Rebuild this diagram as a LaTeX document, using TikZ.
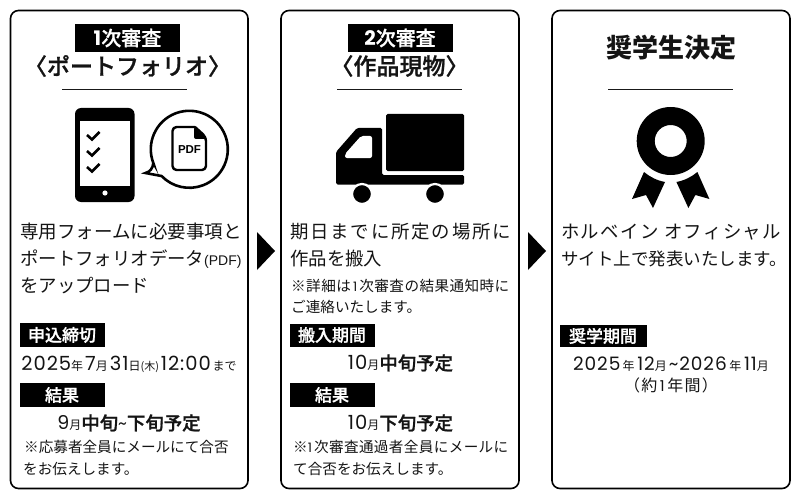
\documentclass[tikz,border=0pt]{standalone}
\usepackage{fontspec}
\setmainfont{Noto Sans CJK JP}
\newfontfamily\jpmed[FakeBold=1]{Noto Sans CJK JP Medium}
\newfontfamily\latinf{Liberation Sans}
\newfontfamily\dg{Poppins}
\newcommand{\fsz}[1]{\fontsize{#1}{#1}\selectfont}
\newcommand{\ls}[1]{\addfontfeature{LetterSpace=#1}}
\newcommand{\dgt}[2]{{\dg\fsz{#1}#2}}
\newcommand{\dgs}[2]{{\dg\fsz{#1}\ls{5}#2}}
\newcommand{\dgb}[2]{{\dg\bfseries\fsz{#1}#2}}
\tikzset{
 card/.style={draw=black,line width=1.6pt,rounded corners=8pt,fill=white},
 bar/.style={fill=black,draw=none},
 rulel/.style={line width=1.8pt,draw=black!90},
 txt/.style={inner sep=0pt,anchor=west,text=black!92},
 ctr/.style={inner sep=0pt,anchor=center,text=black!92},
 wht/.style={inner sep=0pt,anchor=center,text=white},
}
\begin{document}
\begin{tikzpicture}[x=1pt,y=-1pt]
\useasboundingbox (0,0) rectangle (800,500);
\fill[white] (0,0) rectangle (800,500);
% cards
\draw[card] (10.5,10.5) rectangle (248,488.5);
\draw[card] (281,10.5) rectangle (519,488.5);
\draw[card] (552,10.5) rectangle (790,488.5);
% arrows
\fill (257,232) -- (275,251) -- (257,270) -- cycle;
\fill (528,232) -- (546,251) -- (528,270) -- cycle;
% card 1 header
\fill[bar] (75,24) rectangle (180,52);
\node[wht] (t1) at (127.5,38) {\jpmed\fsz{20}\dgb{20}{1}次審査};
\node[ctr] (t1b) at (127.5,66) {\jpmed\fsz{23}〈ポートフォリオ〉};
\draw[rulel] (62,89.5) -- (187,89.5);
% phone
\fill[black,rounded corners=6pt] (75,108) rectangle (134.5,202);
\fill[white] (80,121) rectangle (130,186);
\fill[white] (105,193) circle (2.6);
\foreach \yy in {135,151,167}{
 \draw[line width=2.6pt,black] (87,\yy) -- (92,\yy+4.5) -- (99.5,\yy-3);
}
% bubble
\draw[line width=2.6pt,black,line join=miter,fill=white]
 (189.3,149.3) ++(159:38.5) arc[start angle=159,end angle=496,radius=38.5] -- (145.5,173) .. controls (150,172) and (153,168) .. (153.3,163) -- cycle;
% pdf doc
\draw[line width=2.4pt,black,rounded corners=4pt,line join=round]
 (195,127) -- (172.5,127) -- (172.5,170) -- (206,170) -- (206,137) -- (195,127);
\fill[black] (194,127) -- (207,139) -- (198,139) [rounded corners=2pt] -- (194,139) -- cycle;
\node[inner sep=0pt] (pdf) at (189.5,149.5) {\latinf\fsz{11.5}\bfseries PDF};
% card 1 body
\node[txt] (a1) at (20,232) {\fsz{18.5}専用フォームに必要事項と};
\node[txt] (a2) at (20,259) {\fsz{18.4}ポートフォリオデータ{\latinf\fsz{14}(PDF)}};
\node[txt] (a3) at (20,286) {\fsz{18.4}をアップロード};
\fill[bar] (20,323) rectangle (105,347);
\node[wht] (a4) at (62,335) {\jpmed\fsz{17}申込締切};
\node[ctr] (a5) at (129,364) {\dgs{19.5}{2025}\fsz{12}年\,\dgs{19.5}{7}\fsz{12}月\,\dgs{19.5}{31}\fsz{12}日\fsz{11}(木)\,\dgs{19.5}{12:00}\,\fsz{12}まで};
\fill[bar] (20,383) rectangle (105,407);
\node[wht] (a6) at (62,395) {\jpmed\fsz{17}結果};
\node[ctr] (a7) at (129,423) {\dgs{19}{9}\fsz{12}月\jpmed\fsz{18.4}中旬\dgt{17}{\textasciitilde}下旬予定};
\node[txt] (a8) at (24,447) {\fsz{14.6}※応募者全員にメールにて合否};
\node[txt] (a9) at (23,469) {\fsz{14.6}をお伝えします。};
% card 2 header
\fill[bar] (348,24) rectangle (452.5,52);
\node[wht] (b1) at (400,38) {\jpmed\fsz{20}\dgb{20}{2}次審査};
\node[ctr] (b1b) at (399.5,66) {\jpmed\fsz{23}〈作品現物〉};
\draw[rulel] (337,89.5) -- (462,89.5);
% truck
\fill[black,rounded corners=1.5pt] (386,114) rectangle (464,171);
\fill[black,rounded corners=1.5pt] (336,152) -- (357,128) -- (382,128) -- (382,175) -- (464,175) -- (464,184.5) -- (336,184.5) -- cycle;
\fill[white,rounded corners=2pt] (345,158) -- (345,154) -- (361,136) -- (372,136) -- (372,158) -- cycle;
\draw[white,line width=2.2pt,fill=black] (362,194) circle (10);
\draw[white,line width=2.2pt,fill=black] (435,194) circle (10);
% card 2 body
\node[txt] (b2) at (290,232) {\fsz{18.4}\ls{10}期日までに所定の場所に};
\node[txt] (b3) at (290,259) {\fsz{18.4}作品を搬入};
\node[txt] (b4) at (291,286) {\fsz{14.6}\ls{3}※詳細は\dgt{13}{\,1\,}次審査の結果通知時に};
\node[txt] (b5) at (291,307) {\fsz{14.6}ご連絡いたします。};
\fill[bar] (290,323.5) rectangle (375,347);
\node[wht] (b6) at (332,335) {\jpmed\fsz{17}搬入期間};
\node[ctr] (b7) at (400.5,363) {\dgs{19.5}{10}\fsz{12}月\jpmed\fsz{18.4}中旬予定};
\fill[bar] (290,383) rectangle (375,407);
\node[wht] (b8) at (332,395) {\jpmed\fsz{17}結果};
\node[ctr] (b9) at (400.5,423) {\dgs{19.5}{10}\fsz{12}月\jpmed\fsz{18.4}下旬予定};
\node[txt] (b10) at (293,447) {\fsz{14.6}\ls{2.5}※\dgt{13}{1\,}次審査通過者全員にメールに};
\node[txt] (b11) at (293,469) {\fsz{14.6}て合否をお伝えします。};
% card 3 header
\node[ctr] (c1) at (671,48) {\fsz{26}\bfseries 奨学生決定};
\draw[rulel] (608,89.5) -- (733,89.5);
% medal
\fill[black,even odd rule] (670.7,141) circle (34) (670.7,141) circle (16);
\fill[black] (644,172) .. controls (650,177) and (657,180.5) .. (665,182) -- (653,208) -- (646,195) -- (632,199) -- cycle;
\fill[black] (697.4,172) .. controls (691.4,177) and (684.4,180.5) .. (676.4,182) -- (688.4,208) -- (695.4,195) -- (709.4,199) -- cycle;
% card 3 body
\node[txt] (c2) at (561,232) {\fsz{18.4}\ls{7.5}ホルベイン オフィシャル};
\node[txt] (c3) at (561,259) {\fsz{17.5}サイト上で発表いたします。};
\fill[bar] (560,325) rectangle (647,347);
\node[wht] (c4) at (603,336) {\jpmed\fsz{17}奨学期間};
\node[ctr] (c5) at (671,364) {\dgs{18.5}{2025} \fsz{12}年 \dgs{18.5}{12}\fsz{12}月\,\dgs{18.5}{\textasciitilde 2026} \fsz{12}年 \dgs{18.5}{11}\fsz{12}月};
\node[ctr] (c6) at (671,385) {\fsz{16}\ls{8}（約\dgt{15}{\,1\,}年間）};
\end{tikzpicture}
\end{document}
